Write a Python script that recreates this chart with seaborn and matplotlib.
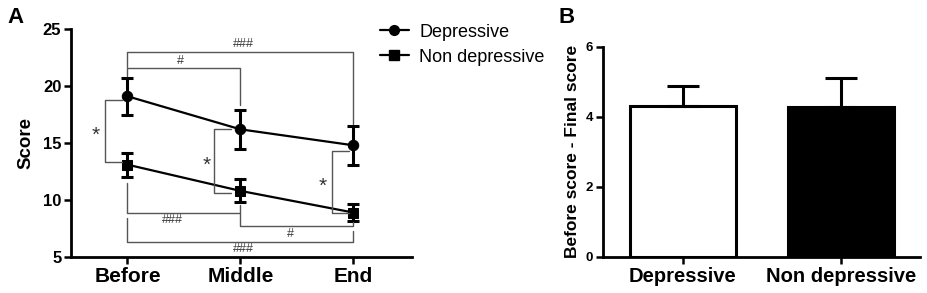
import numpy as np
import pandas as pd
import seaborn as sns
import matplotlib.pyplot as plt
from matplotlib.lines import Line2D

# panel A data
times = ['Before', 'Middle', 'End']
dep_mean = [19.1, 16.2, 14.8]
dep_err = [1.6, 1.7, 1.7]
nondep_mean = [13.1, 10.8, 8.9]
nondep_err = [1.05, 1.0, 0.75]

# panel B data
groups = ['Depressive', 'Non depressive']
diff_mean = [4.3, 4.27]
diff_err = [0.57, 0.85]

sns.set_theme(style='ticks')
plt.rcParams['font.family'] = ['Liberation Sans', 'DejaVu Sans']
plt.rcParams.update({'text.color': 'black', 'axes.labelcolor': 'black',
                     'xtick.color': 'black', 'ytick.color': 'black'})

fig = plt.figure(figsize=(9.27, 2.93), dpi=100)
axA = fig.add_axes([0.0766, 0.1229, 0.3678, 0.7781])
axB = fig.add_axes([0.6505, 0.1229, 0.342, 0.7177])

# ---- panel A
dfA = pd.DataFrame({'time': times * 2,
                    'score': dep_mean + nondep_mean,
                    'group': ['Depressive'] * 3 + ['Non depressive'] * 3})
sns.lineplot(data=dfA, x='time', y='score', hue='group', style='group',
             markers={'Depressive': 'o', 'Non depressive': 's'}, dashes=False,
             palette={'Depressive': 'black', 'Non depressive': 'black'},
             markersize=7.5, linewidth=1.6, markeredgecolor='black',
             legend=False, ax=axA, sort=False)
xpos = np.arange(len(times))
axA.errorbar(xpos, dep_mean, yerr=dep_err, fmt='none', ecolor='black',
             elinewidth=2.2, capsize=4.5, capthick=2.2)
axA.errorbar(xpos, nondep_mean, yerr=nondep_err, fmt='none', ecolor='black',
             elinewidth=2.2, capsize=4.5, capthick=2.2)

axA.set_xlim(-0.5, 2.52)
axA.set_ylim(5, 25)
axA.set_yticks([5, 10, 15, 20, 25])
axA.set_xlabel('')
axA.set_ylabel('Score', fontsize=13.5, fontweight='bold', labelpad=6)
for lab in axA.get_xticklabels():
    lab.set_fontsize(15)
    lab.set_fontweight('bold')
for lab in axA.get_yticklabels():
    lab.set_fontsize(12)
    lab.set_fontweight('bold')

br = dict(color='#555555', lw=1.0, clip_on=False)
hc = '#3a3a3a'
# top brackets
axA.plot([0, 0, 2, 2], [21.7, 23.0, 23.0, 16.7], **br)
axA.text(1.03, 23.2, '###', ha='center', va='bottom', fontsize=9, color=hc)
axA.plot([0, 0, 1, 1], [20.9, 21.55, 21.55, 18.3], **br)
axA.text(0.47, 21.7, '#', ha='center', va='bottom', fontsize=9, color=hc)
# star brackets
for x0, x1, ytop, ybot, xs in [(-0.2, -0.05, 18.8, 13.3, -0.28),
                               (0.77, 0.92, 16.2, 10.65, 0.70),
                               (1.81, 1.96, 14.3, 8.9, 1.73)]:
    axA.plot([x1, x0, x0, x1], [ytop, ytop, ybot, ybot], **br)
    axA.text(xs, (ytop + ybot) / 2 - 0.4, '*', ha='center', va='center',
             fontsize=15, color='#333333')
# bottom brackets
axA.plot([0, 0, 1, 1], [11.5, 8.9, 8.9, 9.6], **br)
axA.text(0.4, 8.75, '###', ha='center', va='top', fontsize=9, color=hc)
axA.plot([1, 1, 2, 2], [8.9, 7.7, 7.7, 8.1], **br)
axA.text(1.44, 7.55, '#', ha='center', va='top', fontsize=9, color=hc)
axA.plot([0, 0, 2, 2], [8.4, 6.35, 6.35, 7.3], **br)
axA.text(1.03, 6.2, '###', ha='center', va='top', fontsize=9, color=hc)

handles = [Line2D([], [], color='black', marker='o', markersize=7, lw=1.6),
           Line2D([], [], color='black', marker='s', markersize=7, lw=1.6)]
fig.legend(handles, ['Depressive', 'Non depressive'], loc='upper left',
           bbox_to_anchor=(0.392, 0.975), frameon=False, fontsize=13,
           handlelength=1.6, handletextpad=0.6, labelspacing=0.45)

# ---- panel B
dfB = pd.DataFrame({'group': groups, 'diff': diff_mean})
sns.barplot(data=dfB, x='group', y='diff', hue='group',
            palette={'Depressive': 'white', 'Non depressive': 'black'},
            edgecolor='black', linewidth=2.2, width=0.67, legend=False,
            errorbar=None, ax=axB)
axB.errorbar(np.arange(len(groups)), diff_mean,
             yerr=[np.zeros(len(groups)), diff_err], fmt='none',
             ecolor='black', elinewidth=2.2, capsize=11.5, capthick=2.2)
axB.set_xlim(-0.506, 1.5)
axB.set_ylim(0, 6)
axB.set_yticks([0, 2, 4, 6])
axB.set_xlabel('')
axB.set_ylabel('Before score - Final score', fontsize=12.5, fontweight='bold')
for lab in axB.get_xticklabels():
    lab.set_fontsize(14.5)
    lab.set_fontweight('bold')
for lab in axB.get_yticklabels():
    lab.set_fontsize(9.5)
    lab.set_fontweight('bold')

for ax in (axA, axB):
    sns.despine(ax=ax)
    ax.spines['left'].set_linewidth(2)
    ax.spines['bottom'].set_linewidth(2)
    ax.spines['left'].set_color('black')
    ax.spines['bottom'].set_color('black')
    ax.tick_params(axis='both', direction='out', width=1.8, length=5,
                   colors='black', pad=2)

fig.text(0.008, 0.975, 'A', fontsize=16, fontweight='bold', va='top')
fig.text(0.602, 0.975, 'B', fontsize=16, fontweight='bold', va='top')

fig.savefig('out.png', dpi=100)
